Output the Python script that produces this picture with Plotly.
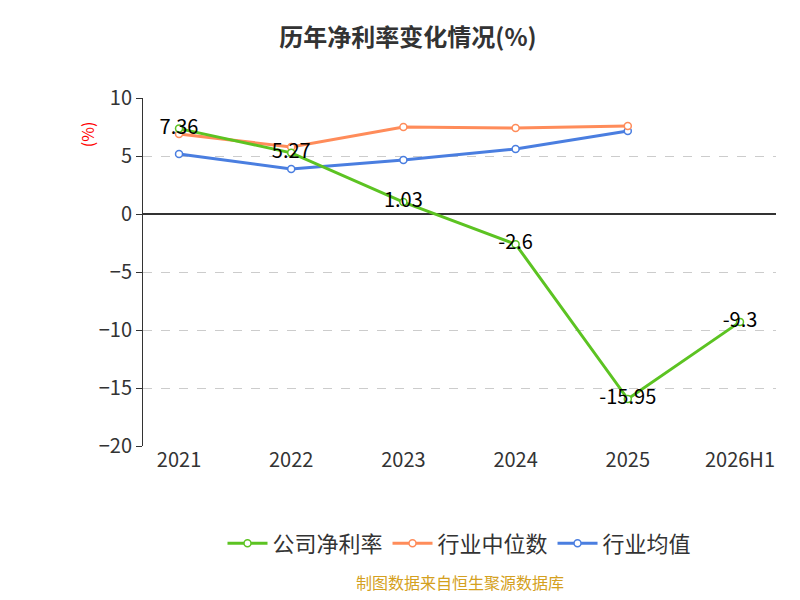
import plotly.graph_objects as go

years = ["2021", "2022", "2023", "2024", "2025", "2026H1"]
company = [7.36, 5.27, 1.03, -2.6, -15.95, -9.3]
industry_avg = [5.17, 3.88, 4.66, 5.6, 7.16, None]
industry_mid = [6.9, 5.78, 7.5, 7.41, 7.59, None]

fig = go.Figure()
fig.add_trace(go.Scatter(x=years, y=industry_avg, name="行业均值", mode="lines+markers",
                         line=dict(color="#4a7ee0", width=3),
                         marker=dict(size=7, color="white", line=dict(color="#4a7ee0", width=1.5))))
fig.add_trace(go.Scatter(x=years, y=industry_mid, name="行业中位数", mode="lines+markers",
                         line=dict(color="#ff8c5a", width=3),
                         marker=dict(size=7, color="white", line=dict(color="#ff8c5a", width=1.5))))
fig.add_trace(go.Scatter(x=years, y=company, name="公司净利率", mode="lines+markers+text",
                         text=[str(v) for v in company], textposition="middle center",
                         textfont=dict(size=20, color="black"),
                         line=dict(color="#5cc322", width=3),
                         marker=dict(size=7, color="white", line=dict(color="#5cc322", width=1.5))))

fig.update_layout(
    width=800, height=600, plot_bgcolor="white", paper_bgcolor="white",
    font=dict(family="Noto Sans CJK SC", size=20, color="#333"),
    title=dict(text="<b>历年净利率变化情况(%)</b>", x=0.5, y=0.965, font=dict(size=24, color="#333")),
    margin=dict(l=135, r=32, t=90, b=162),
    legend=dict(orientation="h", x=0.5, xanchor="center", y=-0.22, traceorder="reversed",
                font=dict(size=22), itemwidth=40),
    xaxis=dict(type="category", showgrid=False, showline=False, ticks="", tickfont=dict(size=20)),
    yaxis=dict(range=[-20, 10], dtick=5, showgrid=True, gridcolor="#ccc", griddash="dash",
               showline=True, linecolor="#333", ticks="outside", ticklen=6, tickcolor="#333",
               zeroline=True, zerolinecolor="#333", zerolinewidth=1.5, tickfont=dict(size=20)),
    showlegend=True,
)
fig.add_annotation(text="(%)", xref="paper", yref="paper", x=-0.11, y=0.94, textangle=-90,
                   showarrow=False, font=dict(size=16, color="red"))
fig.add_annotation(text="制图数据来自恒生聚源数据库", xref="paper", yref="paper", x=0.5, y=-0.43,
                   showarrow=False, font=dict(size=16, color="#d4a020"))
fig.write_html("out.html")
